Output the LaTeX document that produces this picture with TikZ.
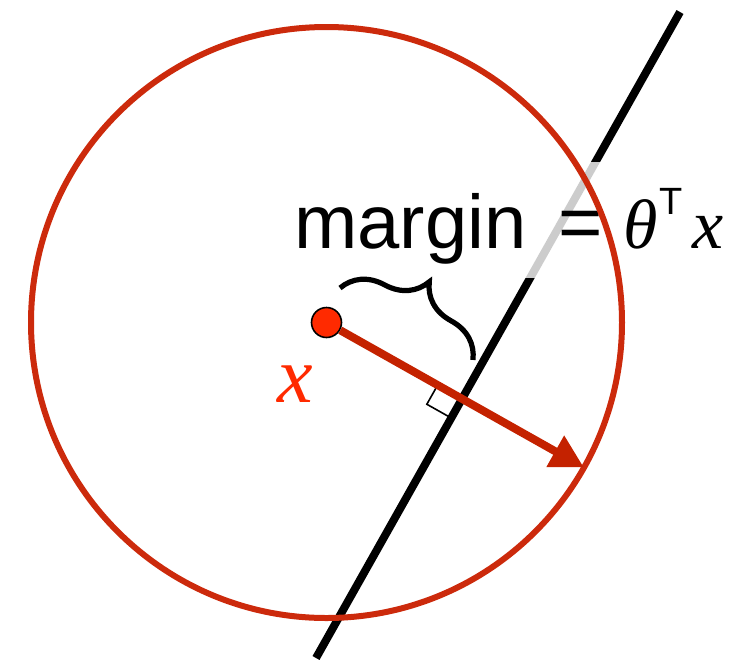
\documentclass[tikz,border=0pt]{standalone}
\usepackage{fontspec}
\setmainfont{Liberation Sans}
\newfontfamily\timesfont{Liberation Serif}
\usetikzlibrary{arrows.meta,calc,decorations.pathreplacing}
\definecolor{ring}{HTML}{CC2A0C}
\definecolor{vecred}{HTML}{C42200}
\definecolor{ptred}{HTML}{FF2A00}
\newcommand\symit[1]{{\timesfont\itshape\fontsize{35}{36}\selectfont #1}}
\tikzset{
  hyperplane/.style={line width=4pt},
  ball/.style={draw=ring, line width=3pt},
  vecarr/.style={draw=vecred, line width=4pt, -{Triangle[length=16.5pt,width=17pt]}},
  datapt/.style={circle, draw=black, line width=0.8pt, fill=ptred, minimum size=15pt, inner sep=0pt},
  rangle/.style={line width=0.8pt},
  margbrace/.style={decorate, decoration={brace, amplitude=24pt}, line width=2.6pt},
  eqn/.style={font=\fontsize{38}{40}\selectfont, inner sep=0pt},
  ptlbl/.style={font=\timesfont\itshape\fontsize{40}{42}\selectfont, text=ptred, inner sep=0pt}
}
\begin{document}
\begin{tikzpicture}[x=0.5pt, y=-0.5pt]
\useasboundingbox (0,0) rectangle (745,660);
% geometry
\coordinate (ctr) at (326.5,322.5);
\coordinate (ltop) at (680,12);
\coordinate (lbot) at (316,658);
\coordinate (foot) at ($(ltop)!(ctr)!(lbot)$);
\coordinate (tip) at ($(ctr)!147.75pt!(foot)$);
\coordinate (bl) at (340,288);
\coordinate (br) at (473,360);

\draw[hyperplane] (ltop) -- (lbot);
\node[eqn, anchor=base west, fill=white, fill opacity=0.8, text opacity=1,
  text height=43pt, text depth=15pt] (marg) at (294,248)
  {margin\hspace{16pt}=\hspace{10pt}\symit{θ}\hspace{1pt}\raisebox{17pt}{\fontsize{19}{19}\selectfont T}\hspace{5pt}\symit{x}};
\draw[ball] (ctr) circle[radius=295.5];

% right angle mark
\coordinate (ra) at ($(foot)!14pt!(ctr)$);
\coordinate (rb) at ($(foot)!11pt!(lbot)$);
\draw[rangle] (ra) -- ($(ra)+(rb)-(foot)$) -- (rb);

\node[datapt] (xpt) at (ctr) {};
\draw[vecarr] (xpt) -- (tip);
\node[ptlbl, anchor=base] (xlbl) at (295,402) {x};
\draw[margbrace] (bl) -- (br);
\end{tikzpicture}
\end{document}
